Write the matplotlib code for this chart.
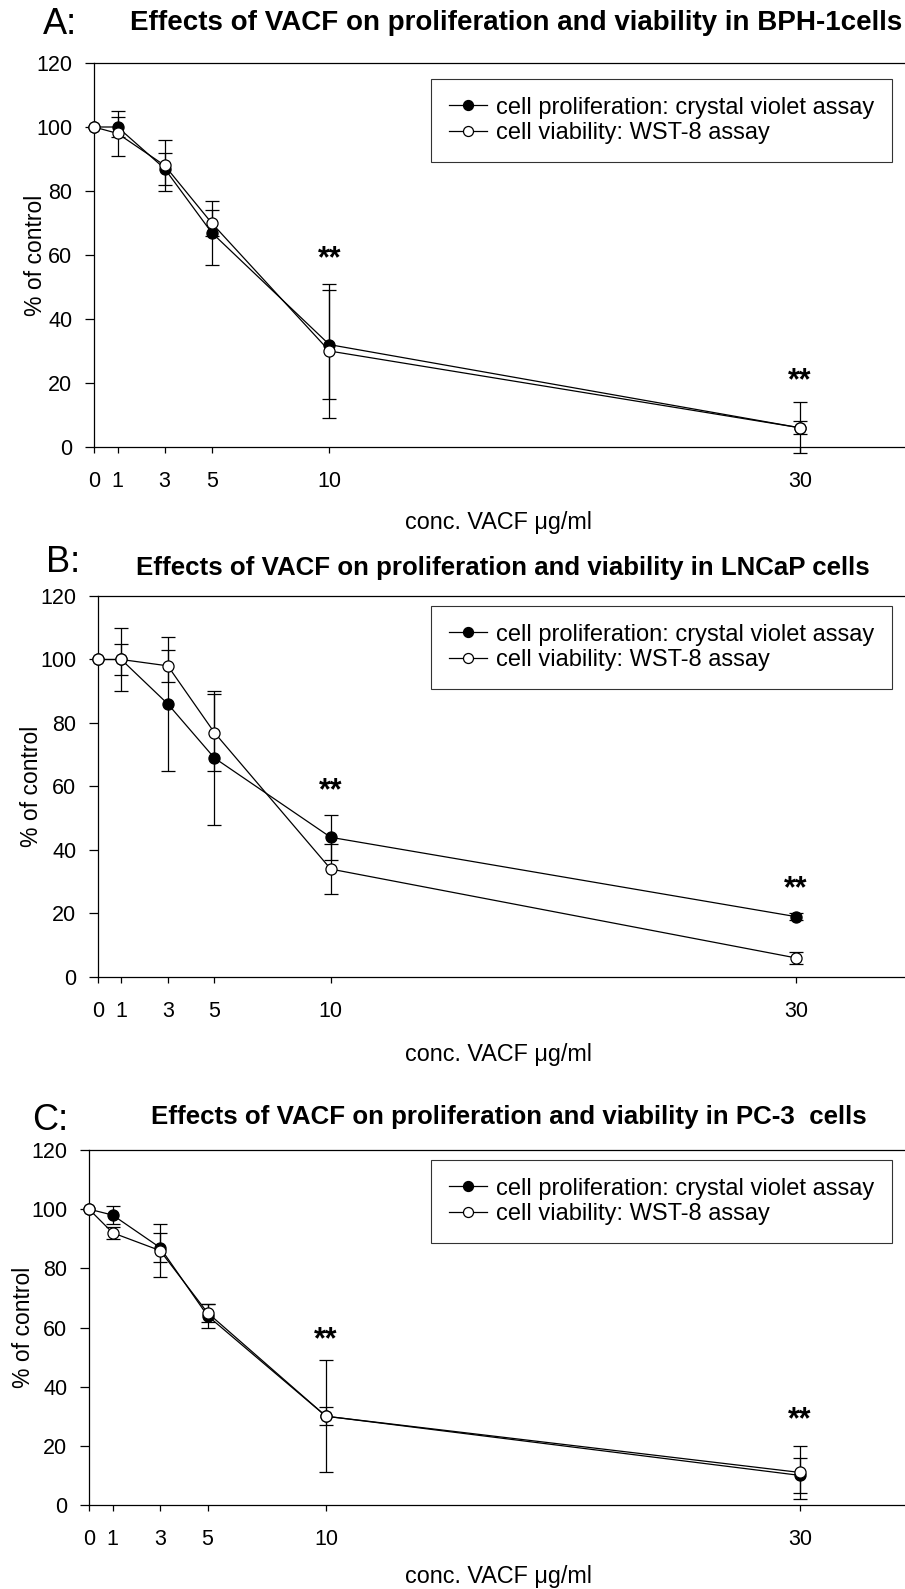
import numpy as np
import matplotlib
matplotlib.use("Agg")
import matplotlib.pyplot as plt

plt.rcParams['font.family'] = ['Liberation Sans', 'DejaVu Sans']

conc = [0, 1, 3, 5, 10, 30]
xticks = [0, 1, 3, 5, 10, 30]
yticks = [0, 20, 40, 60, 80, 100, 120]

# panel A: BPH-1
a_prolif = [100, 100, 87, 67, 32, 6]
a_prolif_err = [0, 3, 5, 10, 17, 2]
a_viab = [100, 98, 88, 70, 30, 6]
a_viab_err = [0, 7, 8, 4, 21, 8]
a_stars = [(10, 58.7), (30, 20.5)]

# panel B: LNCaP
b_prolif = [100, 100, 86, 69, 44, 19]
b_prolif_err = [0, 5, 21, 21, 7, 1]
b_viab = [100, 100, 98, 77, 34, 6]
b_viab_err = [0, 10, 5, 12, 8, 2]
b_stars = [(10, 58.5), (30, 27.7)]

# panel C: PC-3
c_prolif = [100, 98, 87, 64, 30, 10]
c_prolif_err = [0, 3, 5, 4, 3, 6]
c_viab = [100, 92, 86, 65, 30, 11]
c_viab_err = [0, 2, 9, 3, 19, 9]
c_stars = [(10, 55.8), (30, 28.7)]

W, H = 905, 1589
fig = plt.figure(figsize=(W / 100, H / 100), dpi=100)


def px_axes(left, top, bottom, right=W):
    return fig.add_axes([left / W, 1 - bottom / H, (right - left) / W, (bottom - top) / H])


def fy(y):
    return 1 - y / H


def series(ax, y, err, face, label, z):
    x = np.array(conc)
    y = np.array(y)
    err = np.array(err)
    m = err > 0
    ax.errorbar(x[m], y[m], yerr=err[m], fmt='none', ecolor='black', elinewidth=0.9,
                capsize=4.7, capthick=0.9, clip_on=False, zorder=z)
    ax.plot(x, y, color='black', lw=0.9, marker='o', ms=8, mfc=face, mec='black',
            mew=0.9, label=label, clip_on=False, zorder=z + 0.5)


def panel(ax, xmax, prolif, perr, viab, verr, stars, legend_top):
    series(ax, prolif, perr, 'black', 'cell proliferation: crystal violet assay', 3)
    series(ax, viab, verr, 'white', 'cell viability: WST-8 assay', 4)
    for x, y in stars:
        ax.text(x, y, '**', ha='center', va='center', fontsize=22, fontweight='bold')
    ax.set_xlim(0, xmax)
    ax.set_ylim(0, 120)
    ax.set_xticks(xticks)
    ax.set_yticks(yticks)
    ax.tick_params(axis='y', direction='out', length=6.5, width=0.9, labelsize=15.5, pad=9)
    ax.tick_params(axis='x', direction='out', length=4, width=0.9, labelsize=15.5, pad=13)
    ax.spines['right'].set_visible(False)
    for s in ['left', 'bottom', 'top']:
        ax.spines[s].set_linewidth(0.9)
    leg = ax.legend(loc='upper right',
                    bbox_to_anchor=(892 / W, fy(legend_top)), bbox_transform=fig.transFigure,
                    borderaxespad=0, fontsize=17, frameon=True, fancybox=False,
                    edgecolor='black', handlelength=1.6, handletextpad=0.4,
                    borderpad=0.75, labelspacing=0.15, markerscale=0.9)
    leg.get_frame().set_linewidth(0.8)


axA = px_axes(94, 63, 447)
panel(axA, 34.46, a_prolif, a_prolif_err, a_viab, a_viab_err, a_stars, 79)
axB = px_axes(98, 596, 977)
panel(axB, 34.68, b_prolif, b_prolif_err, b_viab, b_viab_err, b_stars, 606)
axC = px_axes(89, 1150, 1505)
panel(axC, 34.43, c_prolif, c_prolif_err, c_viab, c_viab_err, c_stars, 1160)

# panel letters and titles
fig.text(43 / W, fy(25), 'A:', fontsize=26, ha='left', va='center')
fig.text(516 / W, fy(22.5), 'Effects of VACF on proliferation and viability in BPH-1cells',
         fontsize=20, fontweight='bold', ha='center', va='center')
fig.text(46 / W, fy(562), 'B:', fontsize=26, ha='left', va='center')
fig.text(503 / W, fy(568), 'Effects of VACF on proliferation and viability in LNCaP cells',
         fontsize=18.6, fontweight='bold', ha='center', va='center')
fig.text(32 / W, fy(1120), 'C:', fontsize=26, ha='left', va='center')
fig.text(509 / W, fy(1117), 'Effects of VACF on proliferation and viability in PC-3  cells',
         fontsize=18.6, fontweight='bold', ha='center', va='center')

# axis titles
for x, y in [(35, 255), (31, 786), (23, 1327)]:
    fig.text(x / W, fy(y), '% of control', fontsize=16.5, rotation=90, ha='center', va='center')
for y in [523, 1054, 1576]:
    fig.text(498 / W, fy(y), 'conc. VACF μg/ml', fontsize=16.8, ha='center', va='center')

fig.savefig('out.png', dpi=100)
